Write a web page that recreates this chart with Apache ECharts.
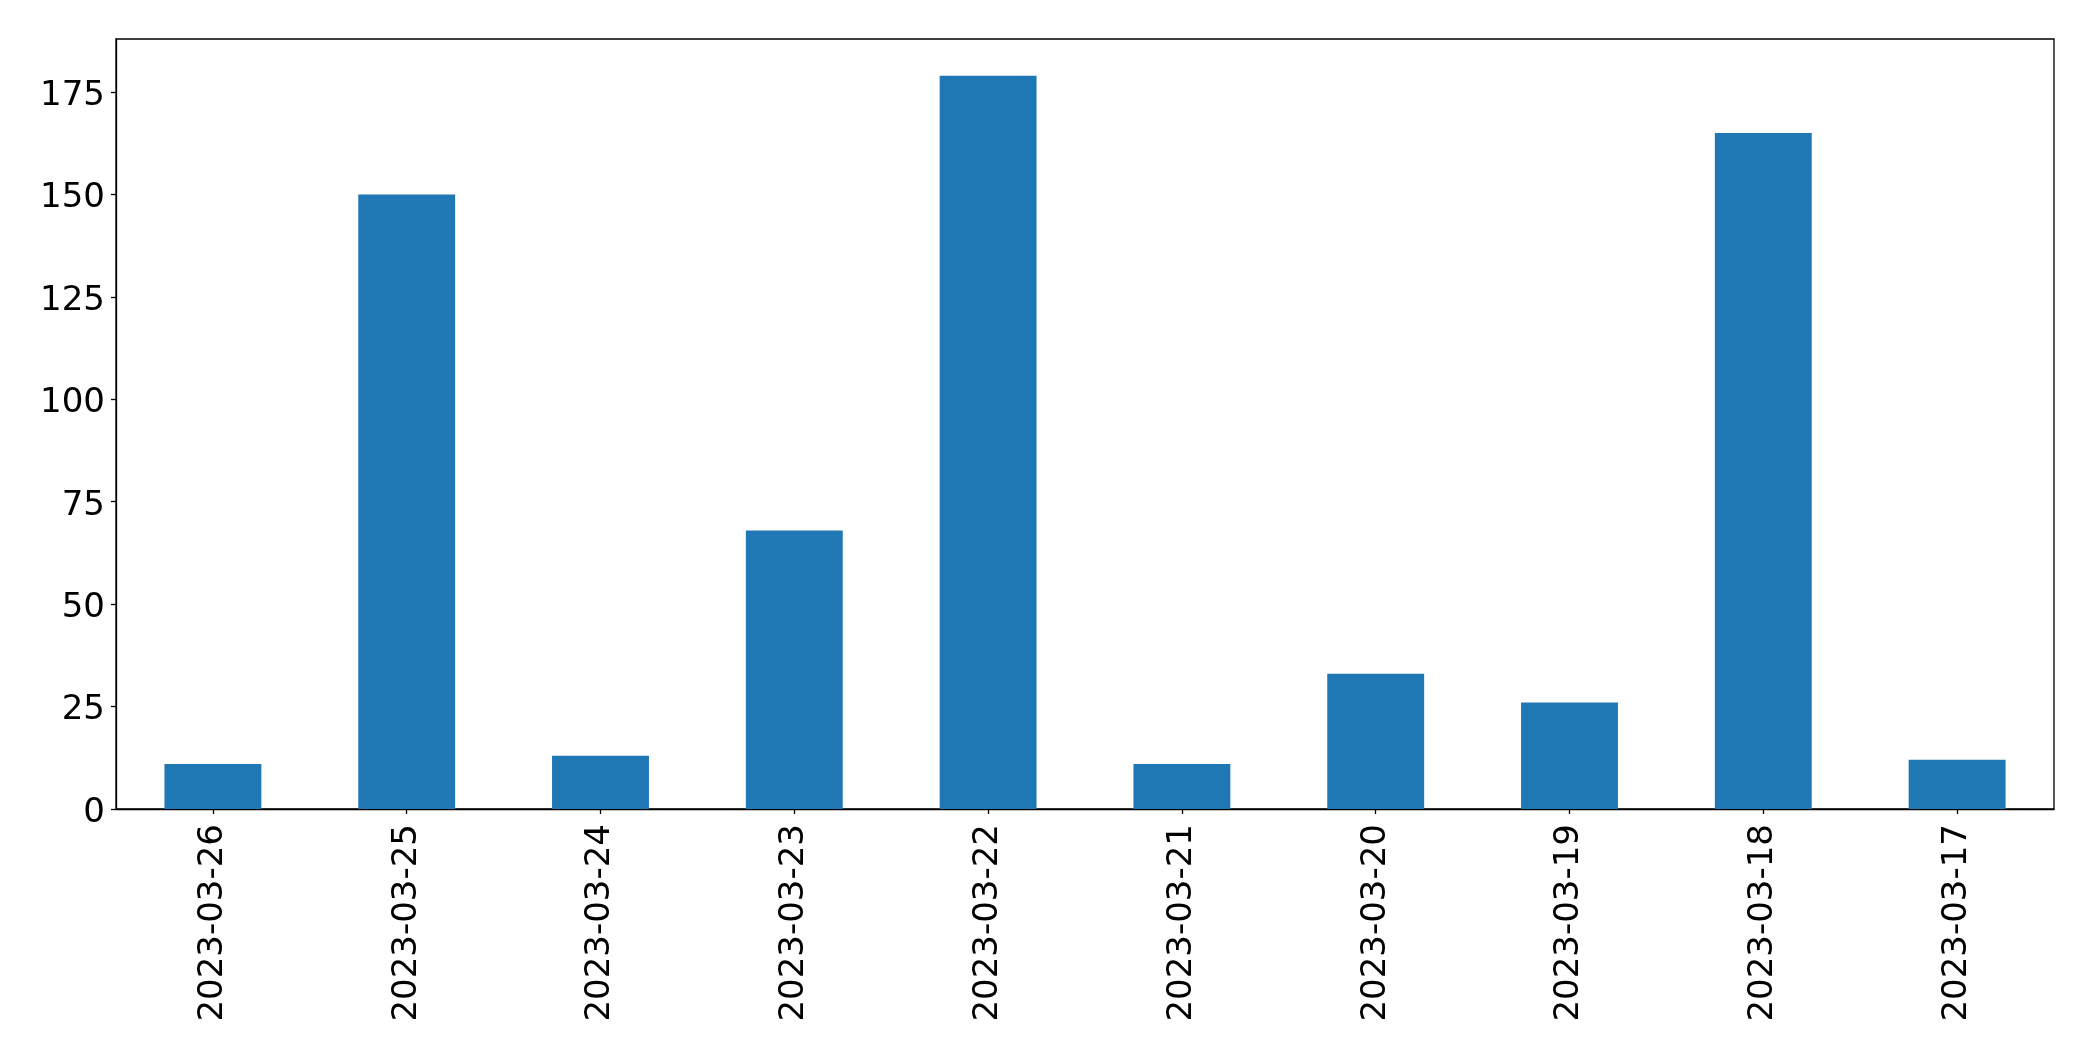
<!DOCTYPE html>
<html>
<head>
<meta charset="utf-8">
<script src="https://cdn.jsdelivr.net/npm/echarts@6/dist/echarts.min.js"></script>
<style>
html,body{margin:0;padding:0;background:#fff;}
#chart{width:2093px;height:1061px;}
</style>
</head>
<body>
<div id="chart"></div>
<script>
const categories = ['2023-03-26','2023-03-25','2023-03-24','2023-03-23','2023-03-22','2023-03-21','2023-03-20','2023-03-19','2023-03-18','2023-03-17'];
const values = [11, 150, 13, 68, 179, 11, 33, 26, 165, 12];
const yTicks = [0, 25, 50, 75, 100, 125, 150, 175];
const yMax = 187.95;

const chart = echarts.init(document.getElementById('chart'), null, {renderer: 'canvas'});
const font = 'DejaVu Sans';
chart.setOption({
  animation: false,
  backgroundColor: '#fff',
  grid: {
    left: 116, top: 39, right: 39, bottom: 252,
    show: true, borderColor: '#000', borderWidth: 1.3, containLabel: false
  },
  xAxis: {
    type: 'category',
    data: categories,
    axisLine: {show: true, lineStyle: {color: '#000', width: 1.3}},
    axisTick: {show: true, alignWithLabel: true, length: 5, lineStyle: {color: '#000', width: 1.3}},
    axisLabel: {rotate: 90, margin: 15, color: '#000', fontFamily: font, fontSize: 34, interval: 0},
    splitLine: {show: false}
  },
  yAxis: {
    type: 'value',
    min: 0, max: yMax,
    axisLine: {show: true, lineStyle: {color: '#000', width: 1.3}},
    axisTick: {show: true, length: 5, lineStyle: {color: '#000', width: 1.3}, customValues: yTicks},
    axisLabel: {
      margin: 11, color: '#000', fontFamily: font, fontSize: 34, customValues: yTicks,
      formatter: '{a|{value}}',
      rich: {a: {fontFamily: font, fontSize: 34, color: '#000', padding: [8, 0, 0, 0]}}
    },
    splitLine: {show: false}
  },
  series: [{
    type: 'bar',
    data: values,
    barWidth: '50%',
    itemStyle: {color: '#1f77b4'}
  }]
});
</script>
</body>
</html>
